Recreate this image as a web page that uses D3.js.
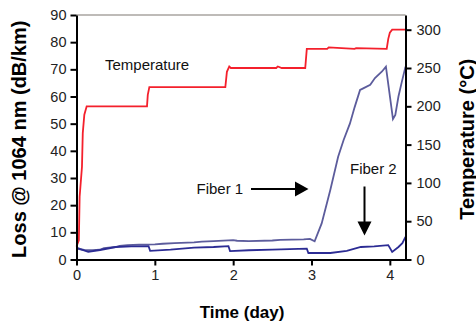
<!DOCTYPE html>
<html>
<head>
<meta charset="utf-8">
<script src="https://cdn.jsdelivr.net/npm/d3@7"></script>
<style>
  body { margin: 0; background: #fff; }
  svg { display: block; font-family: Arial, "Liberation Sans", sans-serif; }
</style>
</head>
<body>
<div id="chart"></div>
<script>
// time in days
var tempTime = [0, 0.03, 0.04, 0.05, 0.07, 0.08, 0.10, 0.13, 0.90, 0.91, 0.93, 1.90, 1.92, 1.95, 1.97, 2.55, 2.57, 2.62, 2.92, 2.94, 3.20, 3.22, 3.55, 3.57, 3.96, 3.98, 4.00, 4.03, 4.2];
var tempC    = [17, 25, 82, 95, 121, 165, 189, 200, 200, 215, 225, 225, 245, 252, 250, 250, 252, 250, 250, 275, 275, 277, 275, 276, 275, 288, 296, 300, 300];

var fiber1Time = [0, 0.1, 0.2, 0.3, 0.35, 0.5, 0.55, 0.65, 0.8, 1.0, 1.1, 1.25, 1.5, 1.6, 1.75, 2.0, 2.05, 2.2, 2.5, 2.6, 2.75, 2.9, 2.98, 3.04, 3.13, 3.24, 3.34, 3.41, 3.49, 3.55, 3.62, 3.66, 3.75, 3.81, 3.90, 3.95, 4.04, 4.07, 4.11, 4.15, 4.2];
var fiber1Loss = [4.0, 3.5, 3.4, 3.6, 4.2, 4.6, 5.0, 5.3, 5.5, 5.6, 5.8, 6.0, 6.3, 6.6, 6.8, 7.1, 6.9, 6.8, 7.0, 7.2, 7.3, 7.4, 7.6, 6.7, 13.3, 25.6, 37.8, 44, 50, 56, 62.4, 63, 64.3, 66.8, 69.2, 71, 51.7, 53.2, 60, 65, 71];

var fiber2Time = [0, 0.05, 0.15, 0.3, 0.5, 0.7, 0.92, 0.94, 1.2, 1.5, 1.75, 1.94, 1.96, 2.2, 2.5, 2.94, 2.96, 3.24, 3.45, 3.63, 3.8, 3.98, 4.03, 4.11, 4.16, 4.2];
var fiber2Loss = [4.4, 3.8, 2.8, 3.5, 4.6, 4.8, 4.9, 3.2, 3.6, 4.4, 4.6, 4.9, 3.1, 3.4, 3.6, 4.0, 2.4, 2.4, 3.2, 4.6, 4.8, 5.3, 2.8, 4.6, 6.0, 8.3];

var lossTicks = [0, 10, 20, 30, 40, 50, 60, 70, 80, 90];
var tempTicks = [0, 50, 100, 150, 200, 250, 300];
var dayTicks = [0, 1, 2, 3, 4];

var width = 476, height = 324;
var plotLeft = 76.5, plotRight = 405.5, plotTop = 15, plotBottom = 259.5;

var svg = d3.select("#chart").append("svg")
    .attr("width", width)
    .attr("height", height);

var x = d3.scaleLinear().domain([0, 4.2]).range([plotLeft, plotRight]);
var yLoss = d3.scaleLinear().domain([0, 90]).range([plotBottom, plotTop]);
var yTemp = d3.scaleLinear().domain([0, 319.2]).range([plotBottom, plotTop]);

// gray top border
svg.append("line")
    .attr("x1", plotLeft).attr("x2", plotRight)
    .attr("y1", plotTop).attr("y2", plotTop)
    .style("stroke", "#a8a4a0")
    .style("stroke-width", 1.5);

function zip(ts, vs) {
    return ts.map(function(t, i) { return [t, vs[i]]; });
}

var lossLine = d3.line()
    .x(function(d) { return x(d[0]); })
    .y(function(d) { return yLoss(d[1]); });

var tempLine = d3.line()
    .x(function(d) { return x(d[0]); })
    .y(function(d) { return yTemp(d[1]); });

svg.append("path")
    .datum(zip(fiber1Time, fiber1Loss))
    .attr("d", lossLine)
    .style("fill", "none")
    .style("stroke", "#5c5c9c")
    .style("stroke-width", 1.8);

svg.append("path")
    .datum(zip(fiber2Time, fiber2Loss))
    .attr("d", lossLine)
    .style("fill", "none")
    .style("stroke", "#2c2c94")
    .style("stroke-width", 1.8);

svg.append("path")
    .datum(zip(tempTime, tempC))
    .attr("d", tempLine)
    .style("fill", "none")
    .style("stroke", "#f4202c")
    .style("stroke-width", 1.8);

// axes
var gx = svg.append("g")
    .attr("transform", "translate(0," + plotBottom + ")")
    .call(d3.axisBottom(x).tickValues(dayTicks).tickFormat(d3.format("d")).tickSizeOuter(0).tickPadding(4));

var gl = svg.append("g")
    .attr("transform", "translate(" + plotLeft + ",0)")
    .call(d3.axisLeft(yLoss).tickValues(lossTicks).tickSizeOuter(0).tickPadding(4));

var gr = svg.append("g")
    .attr("transform", "translate(" + plotRight + ",0)")
    .call(d3.axisRight(yTemp).tickValues(tempTicks).tickSizeOuter(0).tickPadding(5));

[gx, gl, gr].forEach(function(g) {
    g.select(".domain").style("stroke", "#000").style("stroke-width", 2);
    g.selectAll(".tick line").style("stroke", "#000").style("stroke-width", 2);
    g.selectAll(".tick text")
        .style("font-family", "Arial, 'Liberation Sans', sans-serif")
        .style("font-size", "14.5px")
        .style("fill", "#222");
});

// axis titles
svg.append("text")
    .attr("transform", "translate(25.5," + ((plotTop + plotBottom) / 2 + 2) + ") rotate(-90)")
    .attr("text-anchor", "middle")
    .style("font-size", "20px")
    .style("font-weight", "bold")
    .text("Loss @ 1064 nm (dB/km)");

svg.append("text")
    .attr("transform", "translate(473.5," + ((plotTop + plotBottom) / 2 + 2) + ") rotate(-90)")
    .attr("text-anchor", "middle")
    .style("font-size", "20px")
    .style("font-weight", "bold")
    .text("Temperature (°C)");

svg.append("text")
    .attr("x", 242)
    .attr("y", 318)
    .attr("text-anchor", "middle")
    .style("font-size", "17px")
    .style("font-weight", "bold")
    .text("Time (day)");

// annotations
svg.append("text")
    .attr("x", 105).attr("y", 69.5)
    .style("font-size", "15px")
    .style("fill", "#111")
    .text("Temperature");

svg.append("text")
    .attr("x", 196.5).attr("y", 194)
    .style("font-size", "15px")
    .style("fill", "#111")
    .text("Fiber 1");

svg.append("text")
    .attr("x", 350).attr("y", 174)
    .style("font-size", "15px")
    .style("fill", "#111")
    .text("Fiber 2");

// arrows
svg.append("line")
    .attr("x1", 251).attr("x2", 297)
    .attr("y1", 189).attr("y2", 189)
    .style("stroke", "#000").style("stroke-width", 2);
svg.append("path")
    .attr("d", "M295,181.5 L308.5,189 L295,196.5 Z")
    .style("fill", "#000");

svg.append("line")
    .attr("x1", 364.5).attr("x2", 364.5)
    .attr("y1", 186.5).attr("y2", 223)
    .style("stroke", "#000").style("stroke-width", 2);
svg.append("path")
    .attr("d", "M357.5,221.5 L364.5,235.5 L371.5,221.5 Z")
    .style("fill", "#000");
</script>
</body>
</html>
